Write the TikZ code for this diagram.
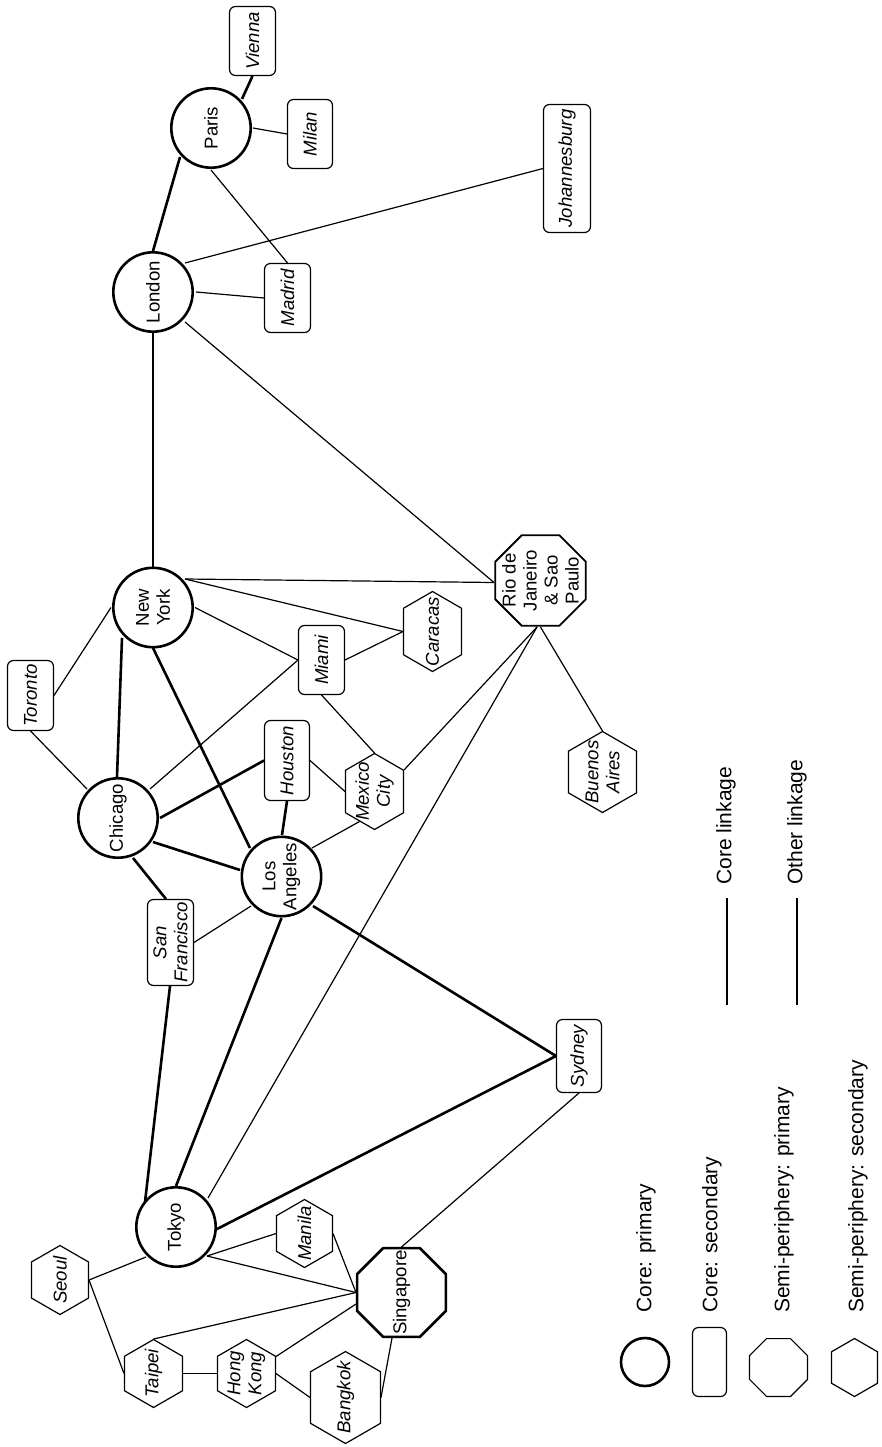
\documentclass[tikz,border=0pt]{standalone}
\usepackage{fontspec}
\setmainfont{Liberation Sans}
\usetikzlibrary{shapes.geometric,shapes.symbols,calc,backgrounds}
\begin{document}
\begin{tikzpicture}[x=1pt,y=-1pt,
  nfont/.style={font=\fontsize{18.6}{21}\selectfont},
  ifont/.style={font=\fontsize{18.6}{21}\selectfont\itshape},
  citybase/.style={rotate=90, inner sep=0pt, outer sep=0pt, align=center, fill=white, draw},
  lbl/.style={rotate=90, inner sep=0pt, align=center},
  corenode/.style={citybase, nfont, circle, line width=2.6pt, minimum size=79.4pt},
  secnode/.style={citybase, ifont, rectangle, rounded corners=6pt, line width=1.2pt},
  semiprim/.style={citybase, regular polygon, regular polygon sides=8, line width=1.8pt},
  semisec/.style={citybase, signal, signal to=east and west, signal pointer angle=120, line width=1.2pt},
  corelink/.style={line width=2.6pt},
  otherlink/.style={line width=1.2pt},
  legtext/.style={rotate=90, anchor=west, inner sep=0pt, font=\fontsize{21}{24}\selectfont}
]
\useasboundingbox (0,0) rectangle (881,1447);

% core primary
\node[corenode] (paris) at (211,128) {Paris};
\node[corenode] (london) at (153,292) {London};
\node[corenode] (newyork) at (153,607.5) {New\\York};
\node[corenode] (chicago) at (118,818) {Chicago};
\node[corenode] (losangeles) at (281.5,876.5) {Los\\Angeles};
\node[corenode] (tokyo) at (176,1227) {Tokyo};

% core secondary
\node[secnode, minimum width=69pt, minimum height=46pt] (vienna) at (252.5,41) {Vienna};
\node[secnode, minimum width=69pt, minimum height=45pt] (milan) at (310,134) {Milan};
\node[secnode, minimum width=69pt, minimum height=46pt] (madrid) at (287.5,298) {Madrid};
\node[secnode, minimum width=128pt, minimum height=47pt] (johannesburg) at (567,168.5) {Johannesburg};
\node[secnode, minimum width=70pt, minimum height=46pt] (toronto) at (30.5,695.5) {Toronto};
\node[secnode, minimum width=69pt, minimum height=46pt] (miami) at (321.5,660) {Miami};
\node[secnode, minimum width=80pt, minimum height=45pt] (houston) at (287,760.5) {Houston};
\node[secnode, minimum width=86pt, minimum height=46pt] (sanfrancisco) at (170.5,942.5) {San\\Francisco};
\node[secnode, minimum width=73pt, minimum height=45pt] (sydney) at (579,1056) {Sydney};

% semi-periphery primary
\node[semiprim, line width=2.6pt, minimum size=96pt] (singapore) at (401.5,1292.5) {};
\node[lbl, nfont] (singapore-t) at (singapore) {Singapore};
\node[semiprim, minimum size=98pt] (rio) at (540.5,580.5) {};
\node[lbl, nfont] (rio-t) at (rio) {Rio de\\Janeiro\\\& Sao\\Paulo};

% semi-periphery secondary
\node[semisec, minimum width=80pt, minimum height=58pt] (caracas) at (432.5,631.5) {};
\node[lbl, ifont] (caracas-t) at (caracas) {Caracas};
\node[semisec, minimum width=76pt, minimum height=58pt] (mexicocity) at (374.5,791.5) {};
\node[lbl, ifont] (mexicocity-t) at (mexicocity) {Mexico\\City};
\node[semisec, minimum width=81pt, minimum height=68pt] (buenosaires) at (602.5,772) {};
\node[lbl, ifont] (buenosaires-t) at (buenosaires) {Buenos\\Aires};
\node[semisec, minimum width=68pt, minimum height=56pt] (manila) at (304.5,1233.5) {};
\node[lbl, ifont] (manila-t) at (manila) {Manila};
\node[semisec, minimum width=69pt, minimum height=57pt] (seoul) at (60,1280) {};
\node[lbl, ifont] (seoul-t) at (seoul) {Seoul};
\node[semisec, minimum width=68pt, minimum height=58pt] (taipei) at (153.5,1373.5) {};
\node[lbl, ifont] (taipei-t) at (taipei) {Taipei};
\node[semisec, minimum width=68pt, minimum height=58pt] (hongkong) at (246.5,1373.5) {};
\node[lbl, ifont] (hongkong-t) at (hongkong) {Hong\\Kong};
\node[semisec, minimum width=92pt, minimum height=70pt] (bangkok) at (345.5,1397.5) {};
\node[lbl, ifont] (bangkok-t) at (bangkok) {Bangkok};

\begin{scope}[on background layer]
\fill[white] (0,0) rectangle (881,1447);
% core linkages
\draw[corelink] ($(vienna)+(0,35)$) -- ($(paris)+(31,-29)$);
\draw[corelink] ($(paris)+(-31,29)$) -- ($(london)+(0,-41)$);
\draw[corelink] ($(london)+(0,41)$) -- ($(newyork)+(0,-40.5)$);
\draw[corelink] ($(newyork)+(-31,30.5)$) -- ($(chicago)+(-1,-41)$);
\draw[corelink] ($(newyork)+(0,40.5)$) -- ($(losangeles)+(-31.5,-28.5)$);
\draw[corelink] ($(chicago)+(42,0)$) -- ($(houston)+(-23,0)$);
\draw[corelink] ($(chicago)+(35,24)$) -- ($(losangeles)+(-41.5,-6.5)$);
\draw[corelink] ($(houston)+(0,40.5)$) -- ($(losangeles)+(0.5,-41.5)$);
\draw[corelink] ($(chicago)+(15,40)$) -- ($(sanfrancisco)+(-4.5,-43.5)$);
\draw[corelink] ($(sanfrancisco)+(-0.5,43.5)$) -- ($(tokyo)+(-31,-25)$);
\draw[corelink] ($(losangeles)+(0,41.5)$) -- ($(tokyo)+(0,-41)$);
\draw[corelink] ($(losangeles)+(31.5,29.5)$) -- ($(sydney)+(-23,0)$);
\draw[corelink] ($(tokyo)+(41,2)$) -- ($(sydney)+(-23,0)$);
% other linkages
\draw[otherlink] ($(paris)+(42,0)$) -- ($(milan)+(-23,0)$);
\draw[otherlink] ($(paris)+(0,42)$) -- ($(madrid)+(0,-35)$);
\draw[otherlink] ($(london)+(43,0)$) -- ($(madrid)+(-23.5,0)$);
\draw[otherlink] ($(london)+(32,-29)$) -- ($(johannesburg)+(-24,0)$);
\draw[otherlink] ($(london)+(32,30)$) -- ($(rio)+(-46.5,2)$);
\draw[otherlink] ($(newyork)+(32,-28.5)$) -- ($(rio)+(-46.5,2)$);
\draw[otherlink] ($(newyork)+(32,-28.5)$) -- ($(caracas)+(-29.5,0)$);
\draw[otherlink] ($(newyork)+(42,0)$) -- ($(miami)+(-23.5,0)$);
\draw[otherlink] ($(miami)+(23.5,0)$) -- ($(caracas)+(-29.5,0)$);
\draw[otherlink] ($(miami)+(0,35)$) -- ($(mexicocity)+(0,-38.5)$);
\draw[otherlink] ($(chicago)+(32,-29)$) -- ($(miami)+(-23.5,0)$);
\draw[otherlink] ($(toronto)+(23.5,0)$) -- ($(newyork)+(-42,0)$);
\draw[otherlink] ($(toronto)+(0,35.5)$) -- ($(chicago)+(-31,-29)$);
\draw[otherlink] ($(houston)+(23,0)$) -- ($(mexicocity)+(-29.5,0)$);
\draw[otherlink] ($(losangeles)+(30.5,-28.5)$) -- ($(mexicocity)+(-15,30)$);
\draw[otherlink] ($(mexicocity)+(29.5,-21.5)$) -- ($(rio)+(-3.5,46.5)$);
\draw[otherlink] ($(tokyo)+(32,-29)$) -- ($(rio)+(-3.5,46.5)$);
\draw[otherlink] ($(rio)+(0,46.5)$) -- ($(buenosaires)+(0,-41)$);
\draw[otherlink] ($(losangeles)+(-30.5,29.5)$) -- ($(sanfrancisco)+(23.5,0)$);
\draw[otherlink] ($(sydney)+(0,37)$) -- ($(singapore)+(0,-45.5)$);
\draw[otherlink] ($(tokyo)+(31,29)$) -- ($(manila)+(-28.5,0)$);
\draw[otherlink] ($(tokyo)+(31,29)$) -- ($(singapore)+(-45.5,0)$);
\draw[otherlink] ($(manila)+(28.5,0)$) -- ($(singapore)+(-45.5,0)$);
\draw[otherlink] ($(seoul)+(29,0)$) -- ($(tokyo)+(-30,30)$);
\draw[otherlink] ($(seoul)+(29,0)$) -- ($(taipei)+(-29.5,0)$);
\draw[otherlink] ($(taipei)+(0,-34.5)$) -- ($(singapore)+(-45.5,0)$);
\draw[otherlink] ($(taipei)+(29.5,0)$) -- ($(hongkong)+(-29.5,0)$);
\draw[otherlink] ($(hongkong)+(29.5,-17)$) -- ($(singapore)+(-45.5,11.5)$);
\draw[otherlink] ($(hongkong)+(29.5,0)$) -- ($(bangkok)+(-35.5,0)$);
\draw[otherlink] ($(bangkok)+(35.5,0)$) -- ($(singapore)+(-9.5,45.5)$);
\end{scope}

% legend
\node[legtext] (lgcl) at (726,885) {Core linkage};
\node[legtext] (lgol) at (797,885) {Other linkage};
\coordinate (lgcl-a) at (727,898);
\coordinate (lgcl-b) at (727,1005);
\coordinate (lgol-a) at (797,898);
\coordinate (lgol-b) at (797,1005);
\draw[corelink] (lgcl-a) -- (lgcl-b);
\draw[otherlink] (lgol-a) -- (lgol-b);

\node[corenode, minimum size=48pt] (lgcore) at (645,1362) {};
\node[secnode, minimum width=69pt, minimum height=34pt] (lgsec) at (709.5,1362) {};
\node[semiprim, line width=1.2pt, minimum size=62.6pt] (lgsp) at (778.5,1367.5) {};
\node[semisec, minimum width=58pt, minimum height=46pt] (lgss) at (854.5,1367.5) {};
\node[legtext] (lgcoret) at (646,1313) {Core: primary};
\node[legtext] (lgsect) at (712,1313) {Core: secondary};
\node[legtext] (lgspt) at (784,1313) {Semi-periphery: primary};
\node[legtext] (lgsst) at (858,1313) {Semi-periphery: secondary};
\end{tikzpicture}
\end{document}
